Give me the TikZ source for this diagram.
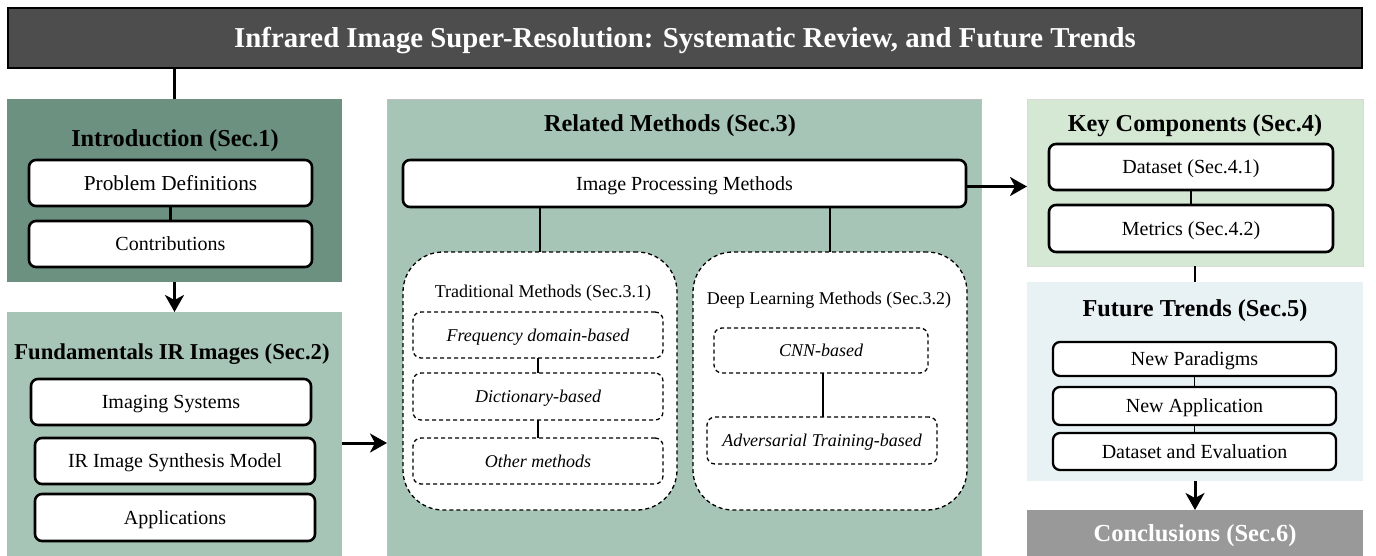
\documentclass[tikz,border=0pt]{standalone}
\usepackage{fontspec}
\setmainfont{Liberation Serif}
\usetikzlibrary{arrows.meta,calc}
\definecolor{titlebg}{RGB}{77,77,77}
\definecolor{introbg}{RGB}{108,145,128}
\definecolor{midbg}{RGB}{167,197,182}
\definecolor{keybg}{RGB}{213,232,212}
\definecolor{futbg}{RGB}{232,241,243}
\definecolor{concbg}{RGB}{153,153,153}
\begin{document}
\begin{tikzpicture}[x=1pt,y=-1pt,
  container/.style={draw=none, inner sep=0pt, outer sep=0pt},
  secttitle/.style={inner sep=0pt, font=\fontsize{24.3}{28}\selectfont\bfseries, text height=21.9pt, text depth=5.5pt},
  box/.style={draw=black, line width=2.6pt, rounded corners=7pt, fill=white, inner sep=0pt, outer sep=0pt, font=\fontsize{20}{24}\selectfont, text height=18pt, text depth=4.5pt},
  dbox/.style={draw=black, line width=1.3pt, dash pattern=on 4pt off 3pt, rounded corners=8pt, fill=white, inner sep=0pt, outer sep=0pt, font=\fontsize{18}{22}\selectfont\itshape, text height=16.2pt, text depth=4pt},
  bigdbox/.style={draw=black, line width=1.3pt, dash pattern=on 4pt off 3pt, rounded corners=40pt, fill=white, inner sep=0pt, outer sep=0pt},
  subtitle/.style={inner sep=0pt, font=\fontsize{18}{22}\selectfont, text height=16.2pt, text depth=4pt},
  conn/.style={draw=black, line width=2.8pt},
  thinconn/.style={draw=black, line width=1.5pt},
  arr/.style={draw=black, line width=3pt, -{Stealth[length=17pt,width=19pt,inset=5pt]}}
]
\useasboundingbox (0,0) rectangle (1376,555);
\fill[white] (0,0) rectangle (1376,555);

% title
\node[draw=black, line width=1.2pt, fill=titlebg, minimum width=1354pt, minimum height=60pt, inner sep=0pt, outer sep=0pt,
  text=white, font=\fontsize{28.8}{32}\selectfont\bfseries, text height=25.9pt, text depth=6.5pt] (title) at (685,38) {Infrared Image Super-Resolution: Systematic Review, and Future Trends};

% Introduction
\node[container, fill=introbg, minimum width=335pt, minimum height=183pt] (intro) at (174.5,190.5) {};
\node[secttitle] (introT) at (175,138) {Introduction (Sec.1)};
\node[box, minimum width=283pt, minimum height=46pt, font=\fontsize{21.3}{25}\selectfont, text height=19.2pt, text depth=4.8pt] (pd) at (170.5,183) {Problem Definitions};
\node[box, minimum width=283pt, minimum height=46pt] (contr) at (170.5,244) {Contributions};

% Fundamentals
\node[container, fill=midbg, minimum width=335pt, minimum height=244pt] (fund) at (174.5,434) {};
\node[secttitle, font=\fontsize{22.7}{27}\selectfont\bfseries, text height=20.4pt, text depth=5.1pt] (fundT) at (172,352) {Fundamentals IR Images (Sec.2)};
\node[box, minimum width=280pt, minimum height=46pt] (imgsys) at (171,402) {Imaging Systems};
\node[box, minimum width=280pt, minimum height=46pt] (irsyn) at (175,461) {IR Image Synthesis Model};
\node[box, minimum width=280pt, minimum height=47pt] (apps) at (175,517.5) {Applications};

% Related methods
\node[draw=black!25, line width=0.6pt, fill=midbg, minimum width=594pt, minimum height=458pt, inner sep=0pt, outer sep=0pt] (related) at (684,328) {};
\node[secttitle] (relT) at (670,123) {Related Methods (Sec.3)};
\node[box, minimum width=563pt, minimum height=47pt] (ipm) at (684.5,183.5) {Image Processing Methods};

\node[bigdbox, minimum width=274pt, minimum height=258pt] (trad) at (540,381) {};
\node[subtitle] (tradT) at (543,291) {Traditional Methods (Sec.3.1)};
\node[dbox, minimum width=250pt, minimum height=46pt] (freq) at (538,335) {Frequency domain-based};
\node[dbox, minimum width=250pt, minimum height=47pt] (dict) at (538,396.5) {Dictionary-based};
\node[dbox, minimum width=250pt, minimum height=46pt] (other) at (538,461) {Other methods};

\node[bigdbox, minimum width=274pt, minimum height=258pt] (deep) at (830,381) {};
\node[subtitle] (deepT) at (829,298) {Deep Learning Methods (Sec.3.2)};
\node[dbox, minimum width=214pt, minimum height=45pt] (cnn) at (821,350.5) {CNN-based};
\node[dbox, minimum width=230pt, minimum height=47pt] (adv) at (822,440.5) {Adversarial Training-based};

% Key components
\node[draw=black!15, line width=0.6pt, fill=keybg, minimum width=336pt, minimum height=167pt, inner sep=0pt, outer sep=0pt] (key) at (1195,182.5) {};
\node[secttitle] (keyT) at (1195,123) {Key Components (Sec.4)};
\node[box, minimum width=284pt, minimum height=46pt] (ds) at (1191,167) {Dataset (Sec.4.1)};
\node[box, minimum width=284pt, minimum height=47pt] (met) at (1191,228.5) {Metrics (Sec.4.2)};

% Future trends
\node[container, fill=futbg, minimum width=336pt, minimum height=199pt] (fut) at (1195,381.5) {};
\node[secttitle] (futT) at (1195,308) {Future Trends (Sec.5)};
\node[box, line width=2.3pt, minimum width=283pt, minimum height=34pt] (np) at (1194.5,359) {New Paradigms};
\node[box, line width=2.3pt, minimum width=283pt, minimum height=38pt] (na) at (1194.5,406) {New Application};
\node[box, line width=2.3pt, minimum width=283pt, minimum height=37pt] (de) at (1194.5,451.5) {Dataset and Evaluation};

% Conclusions
\node[container, fill=concbg, minimum width=336pt, minimum height=46pt, text=white, font=\fontsize{24.5}{28}\selectfont\bfseries, text height=22pt, text depth=5.5pt] (concl) at (1195,533) {Conclusions (Sec.6)};

% connectors
\draw[conn, line width=3.2pt] (intro.north |- title.south) -- (intro.north);
\draw[conn] (pd.south) -- (contr.north);
\draw[arr] (intro.south) -- (fund.north);
\coordinate (fa) at ([yshift=-9pt]fund.east);
\draw[arr] (fa) -- (fa -| related.west);
\draw[conn] (trad.north |- ipm.south) -- (trad.north);
\draw[conn] (deep.north |- ipm.south) -- (deep.north);
\draw[thinconn] (freq.south) -- (dict.north);
\draw[thinconn] (dict.south) -- (other.north);
\draw[thinconn] ($(cnn.south)+(2,0)$) -- ($(adv.north)+(1,0)$);
\coordinate (ia) at ([yshift=-3pt]ipm.east);
\draw[arr] (ia) -- (ia -| key.west);
\draw[conn] (ds.south) -- (met.north);
\draw[conn] (key.south) -- (fut.north);
\draw[thinconn] (np.south) -- (na.north);
\draw[thinconn] (na.south) -- (de.north);
\draw[arr] (fut.south) -- (concl.north);
\end{tikzpicture}
\end{document}
